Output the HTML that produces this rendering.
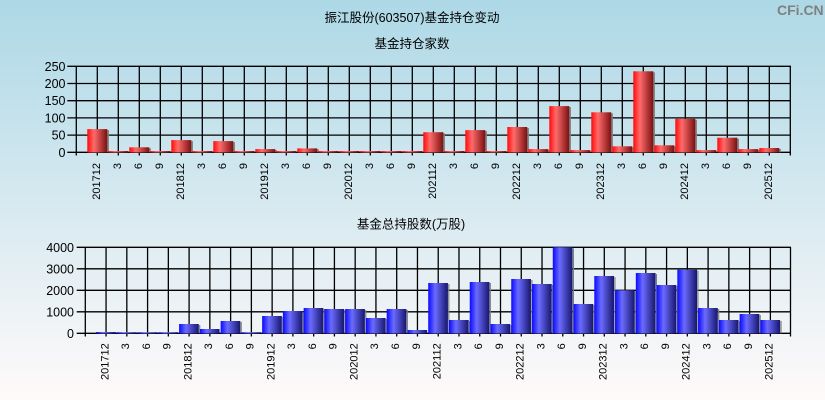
<!DOCTYPE html>
<html><head><meta charset="utf-8"><style>
html,body{margin:0;padding:0;width:825px;height:400px;overflow:hidden}
svg{display:block}
text{font-family:"Liberation Sans","Noto Sans CJK SC",sans-serif;fill:#000}
.t{font-size:12.5px}
.y{font-size:12.5px}
.x{font-size:11px}
</style></head><body>
<svg width="825" height="400" viewBox="0 0 825 400" xmlns="http://www.w3.org/2000/svg">
<defs>
<linearGradient id="bg" x1="0" y1="0" x2="0" y2="1">
<stop offset="0" stop-color="#add8e6"/><stop offset="1" stop-color="#fffafa"/>
</linearGradient>
<linearGradient id="rg" x1="0" y1="0" x2="1" y2="0">
<stop offset="0" stop-color="#ff0a0a"/><stop offset="0.33" stop-color="#ff6b6b"/><stop offset="1" stop-color="#7a1010"/>
</linearGradient>
<linearGradient id="bgr" x1="0" y1="0" x2="1" y2="0">
<stop offset="0" stop-color="#0a0aff"/><stop offset="0.35" stop-color="#6b6bff"/><stop offset="1" stop-color="#16166e"/>
</linearGradient>
</defs>
<rect x="0" y="0" width="825" height="400" fill="url(#bg)"/>
<text x="777" y="15" style="font-size:14px;font-weight:bold;fill:#808080">CFi.CN</text>
<text class="t" x="412" y="22" text-anchor="middle">振江股份(603507)基金持仓变动</text>
<text class="t" x="412" y="48" text-anchor="middle">基金持仓家数</text>
<text class="t" x="411" y="228.5" text-anchor="middle">基金总持股数(万股)</text>

<!-- TOP CHART GRID -->
<g stroke="#000" stroke-width="1.3" fill="none">
<path d="M67.3 152.3H791M67.3 135.1H791M67.3 117.9H791M67.3 100.7H791M67.3 83.5H791M67.3 66.3H791"/>
<path d="M76.3 66.3V155.5M97.3 66.3V155.5M118.3 66.3V155.5M139.3 66.3V155.5M160.3 66.3V155.5M181.3 66.3V155.5M202.3 66.3V155.5M223.3 66.3V155.5M244.3 66.3V155.5M265.3 66.3V155.5M286.3 66.3V155.5M307.3 66.3V155.5M328.3 66.3V155.5M349.3 66.3V155.5M370.3 66.3V155.5M391.3 66.3V155.5M412.3 66.3V155.5M433.3 66.3V155.5M454.3 66.3V155.5M475.3 66.3V155.5M496.3 66.3V155.5M517.3 66.3V155.5M538.3 66.3V155.5M559.3 66.3V155.5M580.3 66.3V155.5M601.3 66.3V155.5M622.3 66.3V155.5M643.3 66.3V155.5M664.3 66.3V155.5M685.3 66.3V155.5M706.3 66.3V155.5M727.3 66.3V155.5M748.3 66.3V155.5M769.3 66.3V155.5M790.3 66.3V155.5"/>
</g>
<!-- top shadows -->
<g fill="#7f7f7f">
<rect x="107.3" y="130.1" width="1.6" height="22.2"/>
<rect x="149.3" y="148.3" width="1.6" height="4"/>
<rect x="191.3" y="141.1" width="1.6" height="11.2"/>
<rect x="233.3" y="142.1" width="1.6" height="10.2"/>
<rect x="275.3" y="150.1" width="1.6" height="2.2"/>
<rect x="317.3" y="149.4" width="1.6" height="2.9"/>
<rect x="443.3" y="133.2" width="1.6" height="19.1"/>
<rect x="485.3" y="131.1" width="1.6" height="21.2"/>
<rect x="527.3" y="128.0" width="1.6" height="24.3"/>
<rect x="548.3" y="150.1" width="1.6" height="2.2"/>
<rect x="569.3" y="107.1" width="1.6" height="45.2"/>
<rect x="611.3" y="113.3" width="1.6" height="39"/>
<rect x="632.3" y="147.3" width="1.6" height="5"/>
<rect x="653.3" y="72.3" width="1.6" height="80"/>
<rect x="674.3" y="146.3" width="1.6" height="6"/>
<rect x="695.3" y="119.8" width="1.6" height="32.5"/>
<rect x="737.3" y="138.7" width="1.6" height="13.6"/>
<rect x="758.3" y="150.1" width="1.6" height="2.2"/>
<rect x="779.3" y="149.0" width="1.6" height="3.3"/>
</g>
<!-- top bars -->
<g fill="url(#rg)">
<rect x="87.3" y="129.1" width="20" height="23.4"/>
<rect x="108.3" y="151" width="20" height="1.5"/>
<rect x="129.3" y="147.3" width="20" height="5.2"/>
<rect x="150.3" y="151" width="20" height="1.5"/>
<rect x="171.3" y="140.1" width="20" height="12.4"/>
<rect x="192.3" y="151" width="20" height="1.5"/>
<rect x="213.3" y="141.1" width="20" height="11.4"/>
<rect x="234.3" y="151" width="20" height="1.5"/>
<rect x="255.3" y="149.1" width="20" height="3.4"/>
<rect x="276.3" y="151" width="20" height="1.5"/>
<rect x="297.3" y="148.4" width="20" height="4.1"/>
<rect x="318.3" y="151" width="20" height="1.5"/>
<rect x="339.3" y="151" width="20" height="1.5"/>
<rect x="360.3" y="151" width="20" height="1.5"/>
<rect x="381.3" y="151" width="20" height="1.5"/>
<rect x="402.3" y="151" width="20" height="1.5"/>
<rect x="423.3" y="132.2" width="20" height="20.3"/>
<rect x="444.3" y="151" width="20" height="1.5"/>
<rect x="465.3" y="130.1" width="20" height="22.4"/>
<rect x="486.3" y="151" width="20" height="1.5"/>
<rect x="507.3" y="127.0" width="20" height="25.5"/>
<rect x="528.3" y="149.1" width="20" height="3.4"/>
<rect x="549.3" y="106.1" width="20" height="46.4"/>
<rect x="570.3" y="150.1" width="20" height="2.4"/>
<rect x="591.3" y="112.3" width="20" height="40.2"/>
<rect x="612.3" y="146.3" width="20" height="6.2"/>
<rect x="633.3" y="71.3" width="20" height="81.2"/>
<rect x="654.3" y="145.3" width="20" height="7.2"/>
<rect x="675.3" y="118.8" width="20" height="33.7"/>
<rect x="696.3" y="150.1" width="20" height="2.4"/>
<rect x="717.3" y="137.7" width="20" height="14.8"/>
<rect x="738.3" y="149.1" width="20" height="3.4"/>
<rect x="759.3" y="148.0" width="20" height="4.5"/>
</g>
<!-- top y labels -->
<g class="y" text-anchor="end">
<text x="65.5" y="156.8">0</text>
<text x="65.5" y="139.6">50</text>
<text x="65.5" y="122.4">100</text>
<text x="65.5" y="105.2">150</text>
<text x="65.5" y="88">200</text>
<text x="65.5" y="70.8">250</text>
</g>
<!-- top x labels -->
<g class="x" text-anchor="end">
<text transform="translate(99.8,163) rotate(-90)">201712</text>
<text transform="translate(120.8,163) rotate(-90)">3</text>
<text transform="translate(141.8,163) rotate(-90)">6</text>
<text transform="translate(162.8,163) rotate(-90)">9</text>
<text transform="translate(183.8,163) rotate(-90)">201812</text>
<text transform="translate(204.8,163) rotate(-90)">3</text>
<text transform="translate(225.8,163) rotate(-90)">6</text>
<text transform="translate(246.8,163) rotate(-90)">9</text>
<text transform="translate(267.8,163) rotate(-90)">201912</text>
<text transform="translate(288.8,163) rotate(-90)">3</text>
<text transform="translate(309.8,163) rotate(-90)">6</text>
<text transform="translate(330.8,163) rotate(-90)">9</text>
<text transform="translate(351.8,163) rotate(-90)">202012</text>
<text transform="translate(372.8,163) rotate(-90)">3</text>
<text transform="translate(393.8,163) rotate(-90)">6</text>
<text transform="translate(414.8,163) rotate(-90)">9</text>
<text transform="translate(435.8,163) rotate(-90)">202112</text>
<text transform="translate(456.8,163) rotate(-90)">3</text>
<text transform="translate(477.8,163) rotate(-90)">6</text>
<text transform="translate(498.8,163) rotate(-90)">9</text>
<text transform="translate(519.8,163) rotate(-90)">202212</text>
<text transform="translate(540.8,163) rotate(-90)">3</text>
<text transform="translate(561.8,163) rotate(-90)">6</text>
<text transform="translate(582.8,163) rotate(-90)">9</text>
<text transform="translate(603.8,163) rotate(-90)">202312</text>
<text transform="translate(624.8,163) rotate(-90)">3</text>
<text transform="translate(645.8,163) rotate(-90)">6</text>
<text transform="translate(666.8,163) rotate(-90)">9</text>
<text transform="translate(687.8,163) rotate(-90)">202412</text>
<text transform="translate(708.8,163) rotate(-90)">3</text>
<text transform="translate(729.8,163) rotate(-90)">6</text>
<text transform="translate(750.8,163) rotate(-90)">9</text>
<text transform="translate(771.8,163) rotate(-90)">202512</text>
</g>

<!-- BOTTOM CHART GRID -->
<g stroke="#000" stroke-width="1.3" fill="none">
<path d="M76.7 333.3H791M76.7 311.8H791M76.7 290.3H791M76.7 268.8H791M76.7 247.3H791"/>
<path d="M85.3 247.3V336.5M106.06 247.3V336.5M126.82 247.3V336.5M147.58 247.3V336.5M168.34 247.3V336.5M189.1 247.3V336.5M209.86 247.3V336.5M230.62 247.3V336.5M251.38 247.3V336.5M272.14 247.3V336.5M292.9 247.3V336.5M313.66 247.3V336.5M334.42 247.3V336.5M355.18 247.3V336.5M375.94 247.3V336.5M396.7 247.3V336.5M417.46 247.3V336.5M438.22 247.3V336.5M458.98 247.3V336.5M479.74 247.3V336.5M500.5 247.3V336.5M521.26 247.3V336.5M542.02 247.3V336.5M562.78 247.3V336.5M583.54 247.3V336.5M604.3 247.3V336.5M625.06 247.3V336.5M645.82 247.3V336.5M666.58 247.3V336.5M687.34 247.3V336.5M708.1 247.3V336.5M728.86 247.3V336.5M749.62 247.3V336.5M770.38 247.3V336.5M790.5 247.3V336.5"/>
</g>
<!-- bottom shadows -->
<g fill="#7f7f7f">
<rect x="199.1" y="325" width="1.2" height="8.3"/>
<rect x="240.6" y="322" width="1.2" height="11.3"/>
<rect x="282.1" y="317" width="1.2" height="16.3"/>
<rect x="302.9" y="312" width="1.2" height="21.3"/>
<rect x="323.7" y="309" width="1.2" height="24.3"/>
<rect x="344.4" y="310" width="1.2" height="23.3"/>
<rect x="365.2" y="310" width="1.2" height="23.3"/>
<rect x="385.9" y="319" width="1.2" height="14.3"/>
<rect x="406.7" y="310" width="1.2" height="23.3"/>
<rect x="448.2" y="284" width="1.2" height="49.3"/>
<rect x="469.0" y="321" width="1.2" height="12.3"/>
<rect x="489.7" y="283" width="1.2" height="50.3"/>
<rect x="510.5" y="325" width="1.2" height="8.3"/>
<rect x="531.3" y="280" width="1.2" height="53.3"/>
<rect x="552.0" y="285" width="1.2" height="48.3"/>
<rect x="572.8" y="248.3" width="1.2" height="85"/>
<rect x="593.5" y="305" width="1.2" height="28.3"/>
<rect x="614.3" y="277" width="1.2" height="56.3"/>
<rect x="635.1" y="291.3" width="1.2" height="42"/>
<rect x="655.8" y="274" width="1.2" height="59.3"/>
<rect x="676.6" y="286" width="1.2" height="47.3"/>
<rect x="697.3" y="270.7" width="1.2" height="62.6"/>
<rect x="718.1" y="309" width="1.2" height="24.3"/>
<rect x="738.9" y="321" width="1.2" height="12.3"/>
<rect x="759.6" y="315" width="1.2" height="18.3"/>
<rect x="780.4" y="321" width="1.2" height="12.3"/>
</g>
<!-- bottom bars -->
<g fill="url(#bgr)">
<rect x="96.06" y="332.0" width="19.7" height="1.5"/>
<rect x="116.82" y="332.2" width="19.7" height="1.3"/>
<rect x="137.58" y="332.2" width="19.7" height="1.3"/>
<rect x="158.34" y="332.2" width="19.7" height="1.3"/>
<rect x="179.1" y="324.0" width="19.7" height="9.5"/>
<rect x="199.86" y="329.0" width="19.7" height="4.5"/>
<rect x="220.62" y="321.0" width="19.7" height="12.5"/>
<rect x="241.38" y="332.2" width="19.7" height="1.3"/>
<rect x="262.14" y="316.0" width="19.7" height="17.5"/>
<rect x="282.9" y="311.0" width="19.7" height="22.5"/>
<rect x="303.66" y="308.0" width="19.7" height="25.5"/>
<rect x="324.42" y="309.0" width="19.7" height="24.5"/>
<rect x="345.18" y="309.0" width="19.7" height="24.5"/>
<rect x="365.94" y="318.0" width="19.7" height="15.5"/>
<rect x="386.7" y="309.0" width="19.7" height="24.5"/>
<rect x="407.46" y="330.0" width="19.7" height="3.5"/>
<rect x="428.22" y="283.0" width="19.7" height="50.5"/>
<rect x="448.98" y="320.0" width="19.7" height="13.5"/>
<rect x="469.74" y="282.0" width="19.7" height="51.5"/>
<rect x="490.5" y="324.0" width="19.7" height="9.5"/>
<rect x="511.26" y="279.0" width="19.7" height="54.5"/>
<rect x="532.02" y="284.0" width="19.7" height="49.5"/>
<rect x="552.78" y="247.3" width="19.7" height="86.2"/>
<rect x="573.54" y="304.0" width="19.7" height="29.5"/>
<rect x="594.3" y="276.0" width="19.7" height="57.5"/>
<rect x="615.06" y="290.3" width="19.7" height="43.2"/>
<rect x="635.82" y="273.0" width="19.7" height="60.5"/>
<rect x="656.58" y="285.0" width="19.7" height="48.5"/>
<rect x="677.34" y="269.7" width="19.7" height="63.8"/>
<rect x="698.1" y="308.0" width="19.7" height="25.5"/>
<rect x="718.86" y="320.0" width="19.7" height="13.5"/>
<rect x="739.62" y="314.0" width="19.7" height="19.5"/>
<rect x="760.38" y="320.0" width="19.7" height="13.5"/>
</g>
<!-- bottom y labels -->
<g class="y" text-anchor="end">
<text x="74" y="337.8">0</text>
<text x="74" y="316.3">1000</text>
<text x="74" y="294.8">2000</text>
<text x="74" y="273.3">3000</text>
<text x="74" y="251.8">4000</text>
</g>
<!-- bottom x labels -->
<g class="x" text-anchor="end">
<text transform="translate(108.4,343.3) rotate(-90)">201712</text>
<text transform="translate(129.1,343.3) rotate(-90)">3</text>
<text transform="translate(149.9,343.3) rotate(-90)">6</text>
<text transform="translate(170.6,343.3) rotate(-90)">9</text>
<text transform="translate(191.4,343.3) rotate(-90)">201812</text>
<text transform="translate(212.2,343.3) rotate(-90)">3</text>
<text transform="translate(232.9,343.3) rotate(-90)">6</text>
<text transform="translate(253.7,343.3) rotate(-90)">9</text>
<text transform="translate(274.4,343.3) rotate(-90)">201912</text>
<text transform="translate(295.2,343.3) rotate(-90)">3</text>
<text transform="translate(316.0,343.3) rotate(-90)">6</text>
<text transform="translate(336.7,343.3) rotate(-90)">9</text>
<text transform="translate(357.5,343.3) rotate(-90)">202012</text>
<text transform="translate(378.2,343.3) rotate(-90)">3</text>
<text transform="translate(399.0,343.3) rotate(-90)">6</text>
<text transform="translate(419.8,343.3) rotate(-90)">9</text>
<text transform="translate(440.5,343.3) rotate(-90)">202112</text>
<text transform="translate(461.3,343.3) rotate(-90)">3</text>
<text transform="translate(482.0,343.3) rotate(-90)">6</text>
<text transform="translate(502.8,343.3) rotate(-90)">9</text>
<text transform="translate(523.6,343.3) rotate(-90)">202212</text>
<text transform="translate(544.3,343.3) rotate(-90)">3</text>
<text transform="translate(565.1,343.3) rotate(-90)">6</text>
<text transform="translate(585.8,343.3) rotate(-90)">9</text>
<text transform="translate(606.6,343.3) rotate(-90)">202312</text>
<text transform="translate(627.4,343.3) rotate(-90)">3</text>
<text transform="translate(648.1,343.3) rotate(-90)">6</text>
<text transform="translate(668.9,343.3) rotate(-90)">9</text>
<text transform="translate(689.6,343.3) rotate(-90)">202412</text>
<text transform="translate(710.4,343.3) rotate(-90)">3</text>
<text transform="translate(731.2,343.3) rotate(-90)">6</text>
<text transform="translate(751.9,343.3) rotate(-90)">9</text>
<text transform="translate(772.7,343.3) rotate(-90)">202512</text>
</g>
</svg>
</body></html>
